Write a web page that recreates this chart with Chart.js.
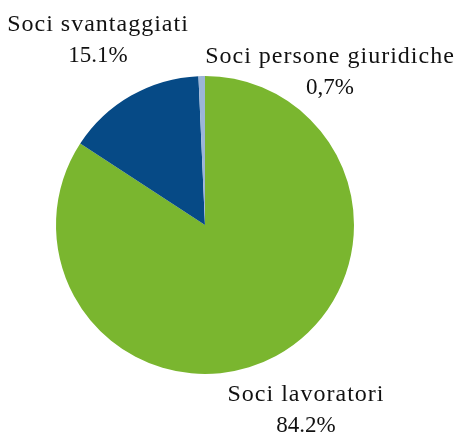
<!DOCTYPE html>
<html lang="it">
<head>
  <meta charset="UTF-8" />
  <title>Composizione soci</title>
  <script src="https://cdn.jsdelivr.net/npm/chart.js"></script>
  <style>
    html, body { margin: 0; padding: 0; background: #fff; }
    #wrap { width: 461px; height: 432px; position: relative; }
  </style>
</head>
<body>
  <div id="wrap"><canvas id="pie"></canvas></div>
  <script>
    // dati
    const categorie = ['Soci lavoratori', 'Soci svantaggiati', 'Soci persone giuridiche'];
    const valori = [84.2, 15.1, 0.7];
    const etichettePct = ['84.2%', '15.1%', '0,7%'];
    const colori = ['#7ab62f', '#064a86', '#9cb5d8'];

    // posizione delle etichette (centro testo, baseline riga 1)
    const posEtichette = [
      { x: 306, y: 401 },
      { x: 98, y: 31 },
      { x: 330, y: 63 }
    ];

    const etichette = {
      id: 'etichette',
      afterDraw(chart) {
        const ctx = chart.ctx;
        ctx.save();
        ctx.fillStyle = '#111';
        ctx.textAlign = 'center';
        ctx.textBaseline = 'alphabetic';
        categorie.forEach((c, i) => {
          const p = posEtichette[i];
          ctx.font = '24px "Liberation Serif", serif';
          ctx.letterSpacing = '1px';
          ctx.fillText(c, p.x, p.y);
          ctx.font = '23px "Liberation Serif", serif';
          ctx.letterSpacing = '0px';
          ctx.fillText(etichettePct[i], p.x, p.y + 31);
        });
        ctx.restore();
      }
    };

    new Chart(document.getElementById('pie'), {
      type: 'pie',
      data: {
        labels: categorie,
        datasets: [{
          data: valori,
          backgroundColor: colori,
          borderWidth: 0
        }]
      },
      options: {
        responsive: true,
        maintainAspectRatio: false,
        animation: false,
        layout: { padding: { left: 56, right: 107, top: 76, bottom: 58 } },
        plugins: {
          legend: { display: false },
          tooltip: { enabled: false }
        }
      },
      plugins: [etichette]
    });
  </script>
</body>
</html>
